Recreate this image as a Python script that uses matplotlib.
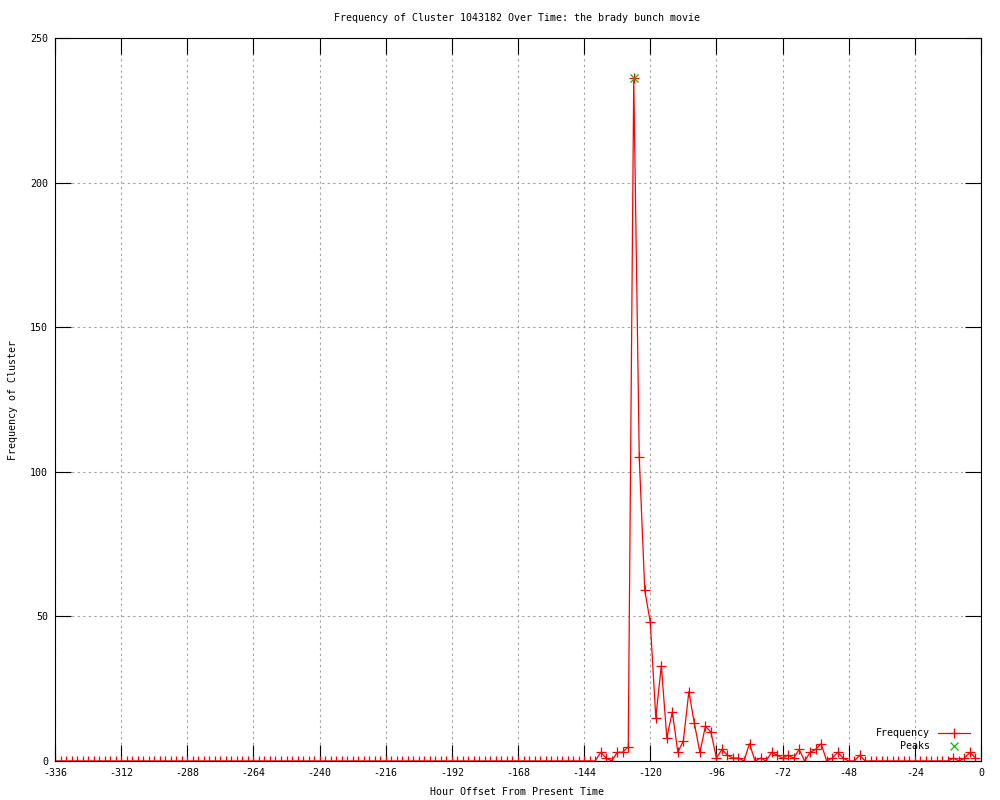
#!/usr/bin/env python3
"""Frequency of cluster 1043182 over time (gnuplot-style line chart)."""

import numpy as np
import matplotlib
matplotlib.use('Agg')
import matplotlib.pyplot as plt

# Hour offsets, one sample every 2 hours from -336 to -2
hours = np.arange(-336, 0, 2)

# Frequency values (-336 .. -140 are all zero)
freq_quiet = [0] * 99
freq_active = [
    3, 1, 0, 3, 3, 5, 236, 105, 59, 48,      # -138 .. -120
    15, 33, 8, 17, 3, 7, 24, 13, 3, 12,      # -118 .. -100
    10, 1, 4, 2, 1, 1, 0, 6, 0, 1,           # -98 .. -80
    0, 3, 2, 1, 2, 1, 4, 0, 3, 4,            # -78 .. -60
    6, 0, 1, 3, 1, 0, 0, 2, 0, 0,            # -58 .. -40
    0, 0, 0, 0, 0, 0, 0, 0, 0, 0, 0, 0, 0, 0,  # -38 .. -12
    1, 0, 1, 3, 1,                           # -10 .. -2
]
freq = freq_quiet + freq_active

peak_hours = [-126]
peak_values = [236]

x_ticks = [-336, -312, -288, -264, -240, -216, -192, -168, -144, -120, -96, -72, -48, -24, 0]
y_ticks = [0, 50, 100, 150, 200, 250]

title = "Frequency of Cluster 1043182 Over Time: the brady bunch movie"
xlabel = "Hour Offset From Present Time"
ylabel = "Frequency of Cluster"

plt.rcParams['font.family'] = ['DejaVu Sans Mono']
plt.rcParams['axes.unicode_minus'] = False  # gnuplot prints plain hyphens
FS = 7.2

fig = plt.figure(figsize=(10, 8), dpi=100)
ax = fig.add_axes([0.055, 0.04875, 0.926, 0.90375])

ax.plot(hours, freq, color='red', lw=0.9, marker='+', ms=6.5, mew=0.9,
        label='Frequency')
ax.plot(peak_hours, peak_values, ls='none', color='#00c000', marker='x',
        ms=6, mew=0.9, label='Peaks')

ax.set_xlim(-336, 0)
ax.set_ylim(0, 250)
ax.set_xticks(x_ticks)
ax.set_yticks(y_ticks)
ax.tick_params(direction='in', length=11.5, width=0.8, top=True, right=True,
               labelsize=FS, pad=5)
ax.grid(True, color='#a0a0a0', ls=(0, (2, 3)), lw=0.8)
for s in ax.spines.values():
    s.set_linewidth(0.8)

fig.text(0.5175, 1 - 18 / 800, title, ha='center', va='center', fontsize=FS)
fig.text(0.5175, 1 - 792 / 800, xlabel, ha='center', va='center', fontsize=FS)
fig.text(0.013, 0.5, ylabel, ha='center', va='center', rotation=90, fontsize=FS)

ax.legend(loc='lower right', markerfirst=False, frameon=False, fontsize=FS,
          handlelength=3.2, handletextpad=0.8, labelspacing=0.3,
          borderaxespad=0.6, bbox_to_anchor=(0.999, 0.0))

fig.savefig('out.png', dpi=100)
